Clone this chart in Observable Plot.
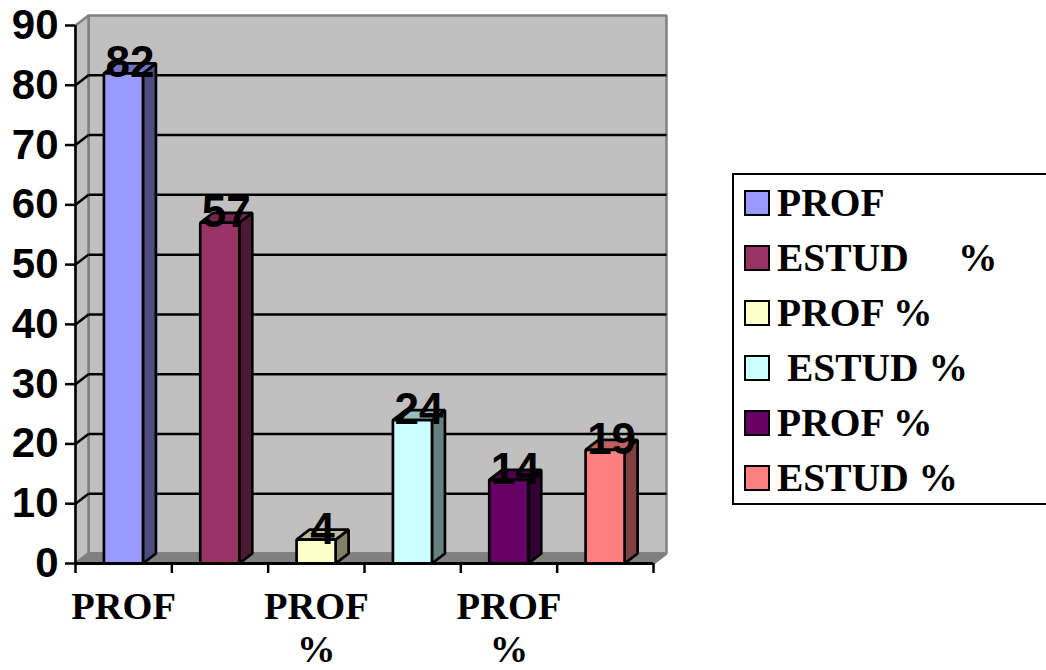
<!DOCTYPE html>
<html>
<head>
<meta charset="utf-8">
<script src="https://cdn.jsdelivr.net/npm/d3@7"></script>
<script src="https://cdn.jsdelivr.net/npm/@observablehq/plot@0.6"></script>
<style>
html,body{margin:0;padding:0;background:#fff;overflow:hidden;width:1046px;height:670px;position:relative}
#chart svg{display:block}
#legend{position:absolute;left:732px;top:173px;width:330px;height:328px;border:2px solid #000;box-sizing:content-box;
  font:bold 39.5px "Liberation Serif",serif;color:#000}
.row{position:absolute;left:0;height:55px;display:flex;align-items:center;white-space:pre}
.sw{display:inline-block;width:22px;height:22px;border:2.5px solid #000;margin:0 7px 0 10px;flex:none}
</style>
</head>
<body>
<div id="chart"></div>
<div id="legend"></div>
<script>
const categories = ["PROF", "ESTUD %", "PROF %", "ESTUD %", "PROF %", "ESTUD %"];
const values = [82, 57, 4, 24, 14, 19];
const frontColors = ["#9999ff", "#993366", "#ffffcc", "#ccffff", "#660066", "#ff8080"];
const sideColors = ["#4d4d80", "#4d1a33", "#808066", "#668080", "#330033", "#804040"];
const topColors = ["#7373bf", "#73264d", "#bfbf99", "#99bfbf", "#4d004d", "#bf6060"];
const legendNames = ["PROF", "ESTUD     %", "PROF %", " ESTUD %", "PROF %", "ESTUD %"];
const xTickLabels = [[0, "PROF"], [2, "PROF\n%"], [4, "PROF\n%"]];
const yTicks = [0, 10, 20, 30, 40, 50, 60, 70, 80, 90];
const gridValues = [10, 20, 30, 40, 50, 60, 70, 80];
const xTicks = [0, 1, 2, 3, 4, 5, 6];

// 3D depth, gap and width, all in data units
const dX = 0.135, dY = 1.67, barStart = 0.295, barWidth = 0.405;
const yMax = 90, xMax = 6;

const poly = (id, fill, stroke, pts) => pts.map(([x, y]) => ({id, fill, stroke, x, y}));
const walls = [
  ...poly("back", "#c0c0c0", "#808080", [[dX, dY], [xMax + dX, dY], [xMax + dX, yMax + dY], [dX, yMax + dY]]),
  ...poly("left", "#c0c0c0", "#808080", [[0, 0], [dX, dY], [dX, yMax + dY], [0, yMax]]),
  ...poly("floor", "#808080", "#808080", [[0, 0], [xMax, 0], [xMax + dX, dY], [dX, dY]])
];
const barFaces = values.flatMap((v, i) => {
  const a = i + barStart, b = a + barWidth;
  return [
    ...poly(`s${i}`, sideColors[i], "#000", [[b, 0], [b + dX, dY], [b + dX, v + dY], [b, v]]),
    ...poly(`t${i}`, topColors[i], "#000", [[a, v], [b, v], [b + dX, v + dY], [a + dX, v + dY]]),
    ...poly(`f${i}`, frontColors[i], "#000", [[a, 0], [b, 0], [b, v], [a, v]])
  ];
});
const face = (data, sw) => Plot.line(data, {
  x: "x", y: "y", z: "id", fill: "fill", stroke: "stroke",
  strokeWidth: sw, curve: "linear-closed", strokeLinejoin: "miter"
});

const chart = Plot.plot({
  width: 1046, height: 670,
  marginLeft: 75, marginRight: 393, marginTop: 25, marginBottom: 107,
  style: {background: "transparent", overflow: "visible"},
  x: {type: "linear", domain: [0, xMax], label: null},
  y: {type: "linear", domain: [0, yMax], label: null},
  color: {type: "identity"},
  marks: [
    face(walls, 2.5),
    Plot.link(gridValues, {x1: () => dX, x2: () => xMax + dX, y1: v => v + dY, y2: v => v + dY, stroke: "#000", strokeWidth: 2.5}),
    Plot.link(gridValues, {x1: () => 0, x2: () => dX, y1: v => v, y2: v => v + dY, stroke: "#000", strokeWidth: 2.5}),
    face(barFaces, 2.7),
    Plot.ruleX([0], {y1: 0, y2: yMax, stroke: "#000", strokeWidth: 2.5}),
    Plot.ruleY([0], {x1: 0, x2: xMax, stroke: "#000", strokeWidth: 3}),
    Plot.axisY({ticks: yTicks, tickSize: 10, tickPadding: 7, fontSize: 42, fontWeight: "bold",
      fontFamily: "Liberation Sans", label: null, strokeWidth: 2.5, stroke: "#000", fill: "#000"}),
    Plot.axisX({ticks: xTicks, tickSize: 10, tickFormat: () => "", label: null, strokeWidth: 2.5, stroke: "#000"}),
    Plot.text(xTickLabels, {
      x: d => d[0] + 0.5, y: () => 0, text: d => d[1], dy: 25, lineAnchor: "top", lineHeight: 1.12,
      fontSize: 38.5, fontWeight: "bold", fontFamily: "Liberation Serif", fill: "#000"
    }),
    Plot.text(values, {
      x: (v, i) => i + barStart + (barWidth + dX) / 2, y: v => v + dY, text: v => String(v),
      fontSize: 44, fontWeight: "bold", fontFamily: "Liberation Sans", fill: "#000"
    })
  ]
});
document.getElementById("chart").append(chart);

const legend = document.getElementById("legend");
legendNames.forEach((name, i) => {
  const row = document.createElement("div");
  row.className = "row";
  row.style.top = (i * 55) + "px";
  const sw = document.createElement("span");
  sw.className = "sw";
  sw.style.background = frontColors[i];
  const label = document.createElement("span");
  label.textContent = name;
  row.append(sw, label);
  legend.append(row);
});
</script>
</body>
</html>
